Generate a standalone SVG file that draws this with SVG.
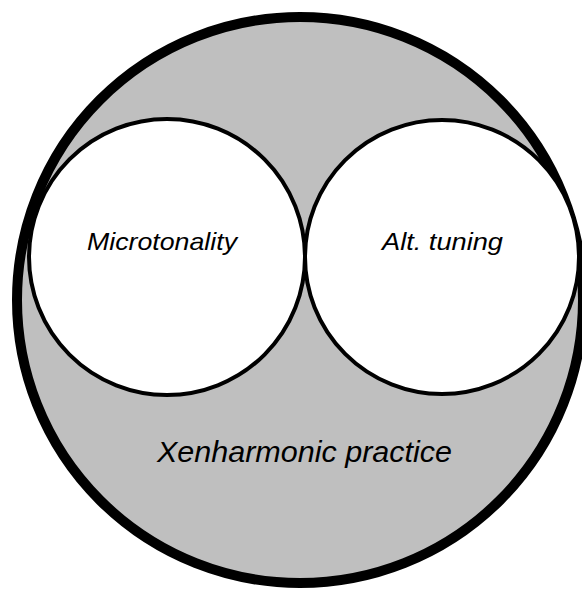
<svg xmlns="http://www.w3.org/2000/svg" width="582" height="590" viewBox="0 0 582 590">
<style>
.lbl{font-family:"Liberation Sans",Arial,sans-serif;font-style:italic;fill:#000;text-anchor:start}
.inner{fill:#fff;stroke:#000;stroke-width:4}
</style>
<rect width="582" height="590" fill="#fff"/>
<g id="xenharmonic">
<circle cx="300" cy="300" r="283" fill="#bfbfbf" stroke="#000" stroke-width="10"/>
<text class="lbl" x="157" y="462" font-size="29" textLength="295" lengthAdjust="spacingAndGlyphs">Xenharmonic practice</text>
</g>
<g id="microtonality">
<circle class="inner" cx="167" cy="257" r="138"/>
<text class="lbl" x="87" y="250" font-size="24" textLength="150" lengthAdjust="spacingAndGlyphs">Microtonality</text>
</g>
<g id="alt-tuning">
<circle class="inner" cx="442" cy="257" r="137"/>
<text class="lbl" x="382" y="250" font-size="24" textLength="121" lengthAdjust="spacingAndGlyphs">Alt. tuning</text>
</g>
<g id="connectors"></g>
</svg>
